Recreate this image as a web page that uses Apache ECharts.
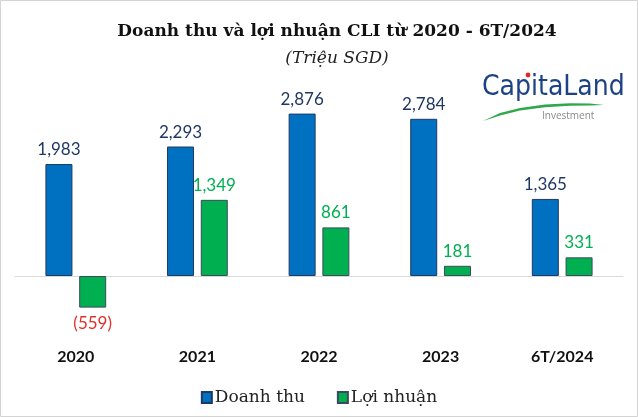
<!DOCTYPE html>
<html><head><meta charset="utf-8">
<script src="https://cdn.jsdelivr.net/npm/echarts@6/dist/echarts.min.js"></script>
<style>html,body{margin:0;padding:0;background:#fff}#c{width:638px;height:417px}</style>
</head><body><div id="c"></div>
<script>
var categories = ['2020', '2021', '2022', '2023', '6T/2024'];
var revenue = [1983, 2293, 2876, 2784, 1365];
var profit = [-559, 1349, 861, 181, 331];
var seriesNames = ['Doanh thu', 'Lợi nhuận'];

function fmt(v) {
  var s = Math.abs(v).toLocaleString('en-US');
  return v < 0 ? '(' + s + ')' : s;
}
var sansF = 'Lato, "Noto Sans", sans-serif';
var serifF = '"DejaVu Serif", "Liberation Serif", serif';

var profitData = profit.map(function (v) {
  return v < 0 ? { value: v, label: { position: 'bottom', color: '#e0302a', distance: 7 } } : v;
});

var chart = echarts.init(document.getElementById('c'));
chart.setOption({
  animation: false,
  backgroundColor: '#fff',
  title: {
    text: 'Doanh thu và lợi nhuận CLI từ 2020 - 6T/2024',
    subtext: '(Triệu SGD)',
    left: 332, top: 18, textAlign: 'center', itemGap: 10,
    textStyle: { fontFamily: serifF, fontWeight: 'bold', fontSize: 17, color: '#111' },
    subtextStyle: { fontFamily: serifF, fontStyle: 'italic', fontSize: 17, color: '#222' }
  },
  legend: {
    data: seriesNames, bottom: 6, left: 'center', itemWidth: 10, itemHeight: 11, itemGap: 32,
    icon: 'rect',
    textStyle: { fontFamily: serifF, fontSize: 17, color: '#222', padding: [0, 0, 0, -2] }
  },
  grid: { left: 15, right: 15, top: 106.6, height: 225.9, containLabel: false, outerBoundsMode: 'none' },
  xAxis: {
    type: 'category', data: categories,
    axisLine: { onZero: true, lineStyle: { color: '#d9d9d9', width: 1 } },
    axisTick: { show: false },
    axisLabel: { margin: 16, fontFamily: sansF, fontWeight: 'bold', fontSize: 16, color: '#111' }
  },
  yAxis: { type: 'value', min: -1000, max: 3000, show: false, splitLine: { show: false } },
  series: [
    {
      name: seriesNames[0], type: 'bar', data: revenue, barWidth: 27, barGap: '25%',
      itemStyle: { color: '#0070c0', borderColor: '#203864', borderWidth: 1 },
      label: { show: true, position: 'top', distance: 6, formatter: function (p) { return fmt(p.value); },
        fontFamily: sansF, fontSize: 17, color: '#1f3864' }
    },
    {
      name: seriesNames[1], type: 'bar', data: profitData, barWidth: 27,
      itemStyle: { color: '#00b050', borderColor: '#3b4a5e', borderWidth: 1 },
      label: { show: true, position: 'top', distance: 6, formatter: function (p) { return fmt(p.value); },
        fontFamily: sansF, fontSize: 17, color: '#00b050' }
    }
  ],
  graphic: [
    { type: 'rect', shape: { x: 0.5, y: 0.5, width: 637, height: 416 }, style: { fill: 'none', stroke: '#d4d4d4', lineWidth: 1 }, z: 100 },
    { type: 'text', x: 482, y: 74, style: { text: 'CapitaLand', fontFamily: '"Liberation Sans Narrow", "DejaVu Sans Condensed", sans-serif', fontSize: 28, fill: '#1d4384' } },
    { type: 'circle', shape: { cx: 528, cy: 75, r: 2.4 }, style: { fill: '#e3262b' }, z: 10 },
    { type: 'polygon', shape: { points: [[483,121],[500,113],[520,108],[545,104.5],[570,103.2],[590,103.6],[604,105],[590,105.6],[570,105.8],[545,107.2],[520,110.5],[500,115.5]] }, style: { fill: '#2ea84b' } },
    { type: 'text', x: 542, y: 111, style: { text: 'Investment', fontFamily: '"Open Sans", sans-serif', fontSize: 10, fill: '#8a8a8a' } }
  ]
});
</script></body></html>
